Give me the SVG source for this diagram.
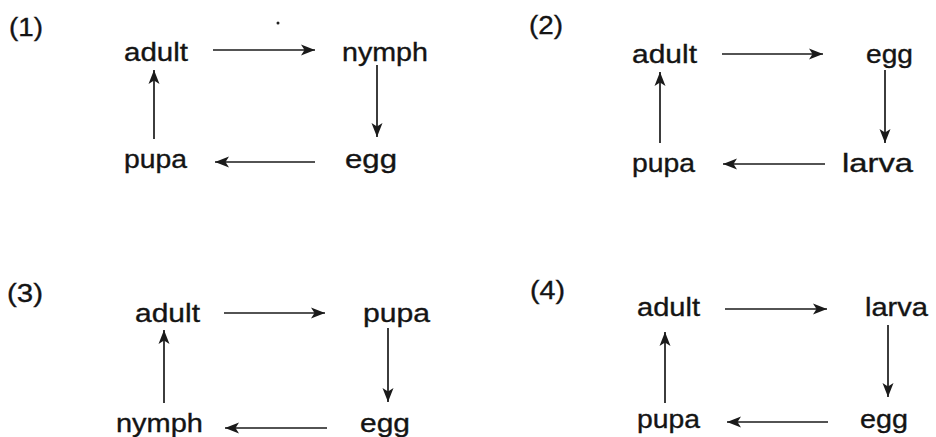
<svg xmlns="http://www.w3.org/2000/svg" width="936" height="437" viewBox="0 0 936 437">
<defs>
<marker id="ah" markerUnits="userSpaceOnUse" markerWidth="16" markerHeight="12" refX="14" refY="6" orient="auto">
<path d="M0,0.5 L14,6 L0,11.5 L3.5,6 Z" fill="#1a1a1a"/>
</marker>
<style>
text{font-family:"Liberation Sans",Arial,sans-serif;font-size:26px;fill:#141414;stroke:#141414;stroke-width:0.35}
.c line{stroke:#1a1a1a;stroke-width:1.7;marker-end:url(#ah)}
</style>
</defs>
<rect width="936" height="437" fill="#fff"/>
<circle cx="278" cy="23" r="1.5" fill="#222"/>
<g id="label1"><text x="9" y="36" textLength="34" lengthAdjust="spacingAndGlyphs">(1)</text></g>
<g id="label2"><text x="529" y="34" textLength="34" lengthAdjust="spacingAndGlyphs">(2)</text></g>
<g id="label3"><text x="7" y="302" textLength="36" lengthAdjust="spacingAndGlyphs">(3)</text></g>
<g id="label4"><text x="530" y="299" textLength="35" lengthAdjust="spacingAndGlyphs">(4)</text></g>
<g id="p1-adult"><text x="124" y="61" textLength="64" lengthAdjust="spacingAndGlyphs">adult</text></g>
<g id="p1-nymph"><text x="342" y="61" textLength="86" lengthAdjust="spacingAndGlyphs">nymph</text></g>
<g id="p1-egg"><text x="345" y="168" textLength="52" lengthAdjust="spacingAndGlyphs">egg</text></g>
<g id="p1-pupa"><text x="124" y="168" textLength="63" lengthAdjust="spacingAndGlyphs">pupa</text></g>
<g id="p2-adult"><text x="632" y="63" textLength="65" lengthAdjust="spacingAndGlyphs">adult</text></g>
<g id="p2-egg"><text x="866" y="63" textLength="47" lengthAdjust="spacingAndGlyphs">egg</text></g>
<g id="p2-larva"><text x="842" y="172" textLength="71" lengthAdjust="spacingAndGlyphs">larva</text></g>
<g id="p2-pupa"><text x="632" y="172" textLength="63" lengthAdjust="spacingAndGlyphs">pupa</text></g>
<g id="p3-adult"><text x="135" y="322" textLength="65" lengthAdjust="spacingAndGlyphs">adult</text></g>
<g id="p3-pupa"><text x="363" y="322" textLength="67" lengthAdjust="spacingAndGlyphs">pupa</text></g>
<g id="p3-egg"><text x="360" y="432" textLength="50" lengthAdjust="spacingAndGlyphs">egg</text></g>
<g id="p3-nymph"><text x="116" y="432" textLength="87" lengthAdjust="spacingAndGlyphs">nymph</text></g>
<g id="p4-adult"><text x="637" y="316" textLength="63" lengthAdjust="spacingAndGlyphs">adult</text></g>
<g id="p4-larva"><text x="865" y="316" textLength="63" lengthAdjust="spacingAndGlyphs">larva</text></g>
<g id="p4-egg"><text x="860" y="428" textLength="48" lengthAdjust="spacingAndGlyphs">egg</text></g>
<g id="p4-pupa"><text x="637" y="428" textLength="63" lengthAdjust="spacingAndGlyphs">pupa</text></g>
<g id="connectors" class="c">
<line x1="213" y1="50" x2="315" y2="50"/>
<line x1="377" y1="65" x2="377" y2="137"/>
<line x1="315" y1="162" x2="215" y2="162"/>
<line x1="154" y1="139" x2="154" y2="70"/>
<line x1="722" y1="54" x2="823" y2="54"/>
<line x1="885" y1="70" x2="885" y2="143"/>
<line x1="825" y1="164" x2="723" y2="164"/>
<line x1="660" y1="143" x2="660" y2="72"/>
<line x1="224" y1="313" x2="325" y2="313"/>
<line x1="388" y1="328" x2="388" y2="402"/>
<line x1="327" y1="428" x2="225" y2="428"/>
<line x1="164" y1="403" x2="164" y2="330"/>
<line x1="725" y1="309" x2="827" y2="309"/>
<line x1="888" y1="325" x2="888" y2="397"/>
<line x1="828" y1="422" x2="727" y2="422"/>
<line x1="665" y1="403" x2="665" y2="332"/>
</g>
</svg>
